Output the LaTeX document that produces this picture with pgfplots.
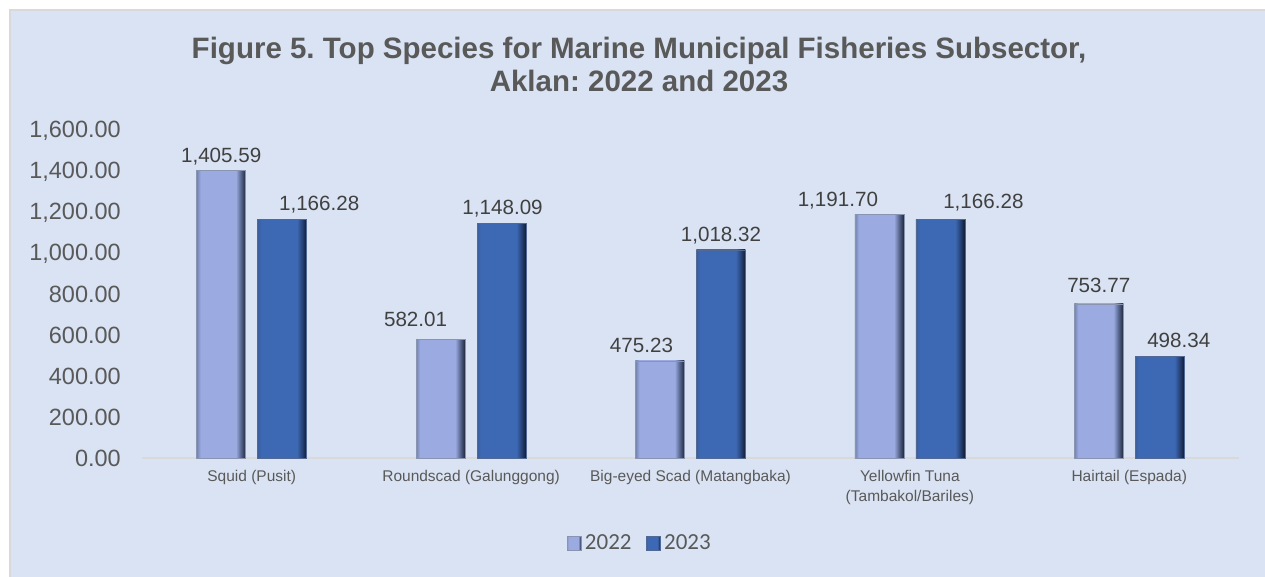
\documentclass[border=0pt]{standalone}
\usepackage{pgfplots}
\pgfplotsset{compat=1.18}
\usepackage{fontspec}
\setmainfont{Liberation Sans}
\newfontfamily\carlito{Carlito}
\frenchspacing

\definecolor{bgBlue}{HTML}{DAE3F3}
\definecolor{lineGray}{HTML}{D9D9D9}
\definecolor{titleGray}{HTML}{595959}
\definecolor{labelDark}{HTML}{404040}
\definecolor{aL}{HTML}{7383AE}
\definecolor{aM}{HTML}{9BAAE0}
\definecolor{aR}{HTML}{56668F}
\definecolor{aD}{HTML}{1F2638}
\definecolor{bL}{HTML}{3A5E9E}
\definecolor{bM}{HTML}{3D69B4}
\definecolor{bR}{HTML}{27447A}
\definecolor{bD}{HTML}{101A2E}

\pgfdeclarehorizontalshading{bevA}{100bp}{color(0bp)=(aL); color(25bp)=(aL); color(29bp)=(aM); color(65bp)=(aM); color(70bp)=(aR); color(75bp)=(aD); color(100bp)=(aD)}
\pgfdeclarehorizontalshading{bevB}{100bp}{color(0bp)=(bL); color(25bp)=(bL); color(29bp)=(bM); color(65bp)=(bM); color(70bp)=(bR); color(75bp)=(bD); color(100bp)=(bD)}

\pgfplotsset{
  barA/.style={bar shift=-30.5pt, shade, shading=bevA, draw=aR!70, line width=0.6pt, nodes near coords,
    legend image code/.code={\shade[shading=bevA] (0pt,-7pt) rectangle (14pt,7pt);}},
  barB/.style={bar shift=30.5pt, shade, shading=bevB, draw=bR!80, line width=0.6pt, nodes near coords,
    legend image code/.code={\shade[shading=bevB] (0pt,-7pt) rectangle (14pt,7pt);}},
  lab/.style 2 args={every node near coord/.append style={xshift=#1pt, yshift=#2pt}},
}

\begin{document}
\begin{tikzpicture}
\useasboundingbox (0,0) rectangle (1265pt,-577pt);
\fill[white] (0,0) rectangle (1265pt,-577pt);
\filldraw[fill=bgBlue, draw=lineGray, line width=1.2pt] (10pt,-10pt) rectangle (1268pt,-580pt);
\node[anchor=base, align=center, text=titleGray, font=\bfseries\fontsize{29.5}{33}\selectfont]
  at (639pt,-92pt) {Figure 5. Top Species for Marine Municipal Fisheries Subsector,\\Aklan: 2022 and 2023};
\begin{axis}[
  at={(142pt,-458pt)}, anchor=south west,
  scale only axis, width=1097pt, height=327pt,
  xmin=-0.5, xmax=4.5, ymin=0, ymax=1600,
  enlargelimits=false, clip=false,
  ybar, bar width=49pt,
  axis lines=left,
  y axis line style={draw=none},
  x axis line style={draw=lineGray, line width=1.5pt, -},
  major tick length=0pt,
  tick style={draw=none},
  ytick={0,200,...,1600},
  scaled y ticks=false,
  /pgf/number format/fixed,
  /pgf/number format/fixed zerofill,
  /pgf/number format/precision=2,
  /pgf/number format/1000 sep={,},
  /pgf/number format/assume math mode=true,
  yticklabel style={anchor=east, inner sep=0pt, xshift=-21pt, text=titleGray, font=\fontsize{23.5}{28}\selectfont},
  xtick={0,1,2,3,4},
  xticklabels={Squid (Pusit), Roundscad (Galunggong), Big-eyed Scad (Matangbaka), {Yellowfin Tuna\\(Tambakol/Bariles)}, Hairtail (Espada)},
  xticklabel style={anchor=north, inner sep=0pt, yshift=-12pt, align=center, text=titleGray, font=\fontsize{15.5}{19.7}\selectfont},
  every node near coord/.append style={anchor=base, inner sep=0pt, text=labelDark, font=\fontsize{20.6}{24}\selectfont},
  legend columns=-1,
  legend style={at={(0.4545,-0.26)}, anchor=center, draw=none, fill=none,
    font=\carlito\fontsize{23}{28}\selectfont, text=titleGray,
    nodes={inner xsep=3.5pt, inner ysep=0pt},
    /tikz/every even column/.append style={column sep=11pt}},
]
\addplot[barA, lab={0}{8.7}] coordinates {(0,1405.59)};
\addlegendentry{2022}
\addplot[barB, lab={37}{9.3}] coordinates {(0,1166.28)};
\addlegendentry{2023}
\addplot[barA, lab={-25}{12.3}, forget plot] coordinates {(1,582.01)};
\addplot[barA, lab={-18.5}{8.7}, forget plot] coordinates {(2,475.23)};
\addplot[barA, lab={-41.5}{8.3}, forget plot] coordinates {(3,1191.70)};
\addplot[barA, lab={0}{11.3}, forget plot] coordinates {(4,753.77)};
\addplot[barB, lab={1}{8.7}, forget plot] coordinates {(1,1148.09)};
\addplot[barB, lab={0}{8.7}, forget plot] coordinates {(2,1018.32)};
\addplot[barB, lab={43}{11.6}, forget plot] coordinates {(3,1166.28)};
\addplot[barB, lab={19}{8.7}, forget plot] coordinates {(4,498.34)};
\end{axis}
\end{tikzpicture}
\end{document}
